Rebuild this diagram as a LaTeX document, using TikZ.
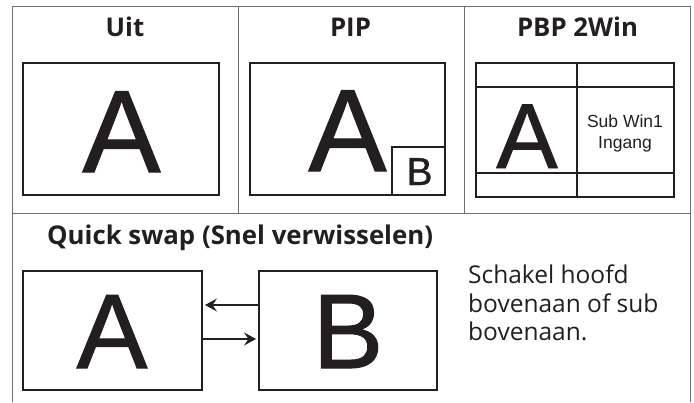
\documentclass[tikz,border=0pt]{standalone}
\usepackage{fontspec}
\setmainfont{Open Sans}
\newfontfamily\arialf{Liberation Sans}
\newfontfamily\arialheavy{Liberation Sans}[FakeBold=1]
\usetikzlibrary{arrows.meta,calc}
\definecolor{ink}{RGB}{35,31,32}
\definecolor{rule}{RGB}{110,110,110}
\begin{document}
\begin{tikzpicture}[x=1pt,y=-1pt,
  frame/.style={draw=rule, line width=1pt},
  screen/.style={draw=ink, line width=2pt, inner sep=0pt},
  thinline/.style={draw=ink, line width=1.8pt},
  letter/.style={text=ink, inner sep=0pt, anchor=base, font=\arialheavy\fontsize{#1}{#1}\selectfont},
  small/.style={text=ink, inner sep=0pt, font=\arialf\fontsize{17.5}{21}\selectfont},
  title/.style={text=ink, inner sep=0pt, anchor=base, font=\bfseries\fontsize{25.8}{26}\selectfont},
  para/.style={text=ink, inner sep=0pt, anchor=base west, font=\fontsize{24.5}{28.5}\selectfont},
  swaparrow/.style={draw=ink, line width=1.3pt, -{Stealth[length=12pt,width=13pt,inset=4.5pt]}},
]
\useasboundingbox (0,0) rectangle (694,402);
% frame
\draw[frame] (12,402) -- (12,6) -- (690,6) -- (690,402);
\draw[frame] (12,213) -- (690,213);
\draw[frame] (238,6) -- (238,213);
\draw[frame] (464,6) -- (464,213);
% titles
\node[title] (tuit) at (125,36) {Uit};
\node[title] (tpip) at (350.5,36) {PIP};
\node[title] (tpbp) at (577.5,36) {PBP 2Win};
% Uit
\node[screen, minimum width=196, minimum height=132] (uit) at (121,129) {};
\node[letter=117] (uitA) at (121.5,172) {A};
% PIP
\node[screen, minimum width=195, minimum height=132] (pip) at (347.5,129) {};
\node[letter=117] (pipA) at (347.5,171) {A};
\node[screen, minimum width=53, minimum height=48, anchor=south east] (pipsub) at (pip.south east) {};
\node[letter=39] (pipB) at (419.5,185) {B};
% PBP
\node[screen, minimum width=198, minimum height=134] (pbp) at (575,130) {};
\draw[thinline] (577,63) -- (577,197);
\draw[thinline] (476,87) -- (674,87);
\draw[thinline] (476,173) -- (674,173);
\node[letter=92] (pbpA) at (527,168) {A};
\node[small, align=center] (pbpsub) at (625,133) {Sub Win1\\Ingang};
% Quick swap
\node[title, anchor=base west] (tswap) at (47,244) {Quick swap (Snel verwisselen)};
\node[screen, minimum width=179, minimum height=119] (qa) at (112.5,330.5) {};
\node[screen, minimum width=178, minimum height=119] (qb) at (348,330.5) {};
\node[letter=106] (qaA) at (112,368) {A};
\node[letter=106] (qbB) at (348,368) {B};
\draw[swaparrow] ($(qb.west)+(0,-25.5)$) -- ($(qa.east)+(2,-25.5)$);
\draw[swaparrow] ($(qa.east)+(0,8.5)$) -- ($(qb.west)+(-2,8.5)$);
\node[para] (desc) at (468,283) {Schakel hoofd};
\node[para] (desc2) at (468,312) {bovenaan of sub};
\node[para] (desc3) at (468,340) {bovenaan.};
\end{tikzpicture}
\end{document}
